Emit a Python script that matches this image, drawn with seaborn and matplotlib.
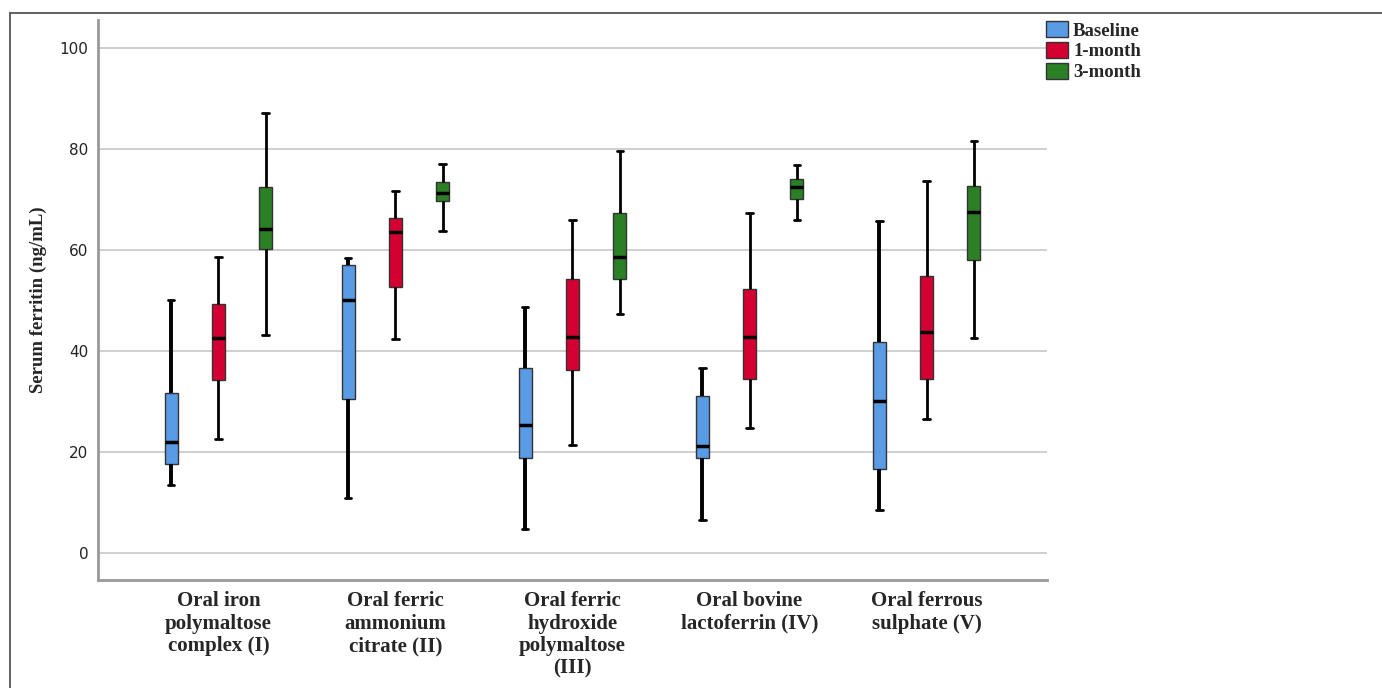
import numpy as np
import pandas as pd
import matplotlib
matplotlib.use('Agg')
import matplotlib.pyplot as plt
import seaborn as sns
from matplotlib.patches import Patch
from matplotlib.lines import Line2D

# Treatment groups (x axis)
groups = [
    'Oral iron\npolymaltose\ncomplex (I)',
    'Oral ferric\nammonium\ncitrate (II)',
    'Oral ferric\nhydroxide\npolymaltose\n(III)',
    'Oral bovine\nlactoferrin (IV)',
    'Oral ferrous\nsulphate (V)',
]
timepoints = ['Baseline', '1-month', '3-month']

# five-number summaries: [min, Q1, median, Q3, max]
baseline = [
    [13.5, 17.5, 22.0, 31.7, 50.1],
    [10.9, 30.4, 50.1, 57.0, 58.4],
    [4.7, 18.7, 25.3, 36.5, 48.6],
    [6.5, 18.8, 21.1, 31.0, 36.5],
    [8.4, 16.6, 30.0, 41.7, 65.6],
]
month_1 = [
    [22.6, 34.3, 42.6, 49.3, 58.6],
    [42.4, 52.7, 63.6, 66.3, 71.7],
    [21.4, 36.2, 42.8, 54.3, 65.9],
    [24.8, 34.5, 42.8, 52.2, 67.2],
    [26.5, 34.5, 43.8, 54.9, 73.7],
]
month_3 = [
    [43.2, 60.2, 64.2, 72.5, 87.1],
    [63.8, 69.7, 71.3, 73.5, 77.0],
    [47.3, 54.3, 58.6, 67.3, 79.6],
    [65.8, 70.0, 72.5, 74.0, 76.8],
    [42.5, 58.0, 67.4, 72.7, 81.5],
]

colors = ['#5a9be6', '#d50032', '#2b8025']

# long table: with 5 values per box the quartiles come out exactly as listed
rows = []
for tp, series in zip(timepoints, [baseline, month_1, month_3]):
    for g, vals in zip(groups, series):
        for v in vals:
            rows.append({'group': g, 'time': tp, 'ferritin': v})
df = pd.DataFrame(rows)

sns.set_style('white')
plt.rcParams['font.family'] = ['DejaVu Sans']

fig = plt.figure(figsize=(13.82, 6.88), dpi=100)
ax = fig.add_axes([98 / 1382, 1 - 580 / 688, (1047 - 98) / 1382, (580 - 20) / 688])

sns.boxplot(data=df, x='group', y='ferritin', hue='time', order=groups,
            hue_order=timepoints, palette=colors, saturation=1,
            width=0.8, gap=0.725, whis=(0, 100), showfliers=False,
            linewidth=1, linecolor='#333333', legend=False, ax=ax,
            capwidths=0.036,
            medianprops=dict(color='black', linewidth=2.5),
            whiskerprops=dict(color='black', linewidth=2),
            capprops=dict(color='black', linewidth=2),
            boxprops=dict(edgecolor='#333333', linewidth=1))

# baseline whiskers are drawn heavier in the original
for cont in ax.containers[:1]:
    for w in cont.whiskers:
        w.set_linewidth(2.8)

ax.set_ylim(-5.4, 105.5)
ax.set_xlim(-0.68, 4.68)
ax.set_yticks([0, 20, 40, 60, 80, 100])
ax.yaxis.grid(True, color='#cccccc', linewidth=1.3)
ax.set_axisbelow(True)

for s in ['top', 'right']:
    ax.spines[s].set_visible(False)
for s in ['left', 'bottom']:
    ax.spines[s].set_color('#999999')
    ax.spines[s].set_linewidth(2)

ax.tick_params(axis='y', length=0, pad=7, labelsize=11, labelcolor='#222222')
ax.tick_params(axis='x', length=0, pad=8)
for lab in ax.get_xticklabels():
    lab.set_fontfamily('Liberation Serif')
    lab.set_fontweight('bold')
    lab.set_fontsize(15)
    lab.set_linespacing(1.17)

ax.set_xlabel('')
ax.set_ylabel('Serum ferritin (ng/mL)', fontfamily='Liberation Serif',
              fontweight='bold', fontsize=13.5)
ax.yaxis.set_label_coords(-0.054, 0.5)

handles = [Patch(facecolor=c, edgecolor='#333333', linewidth=1) for c in colors]
fig.legend(handles, timepoints, loc='upper left',
           bbox_to_anchor=(1046 / 1382, 1 - 21 / 688), frameon=False,
           borderpad=0, borderaxespad=0, handlelength=1.15, handleheight=0.95,
           handletextpad=0.3, labelspacing=0.12,
           prop=dict(family='Liberation Serif', weight='bold', size=13.5))

# outer frame (top and left edges only)
fig.add_artist(Line2D([10 / 1382, 1], [1 - 13 / 688, 1 - 13 / 688],
                      transform=fig.transFigure, color='#555555', linewidth=1.3))
fig.add_artist(Line2D([10 / 1382, 10 / 1382], [0, 1 - 13 / 688],
                      transform=fig.transFigure, color='#555555', linewidth=1.3))

fig.savefig('out.png', dpi=100)
